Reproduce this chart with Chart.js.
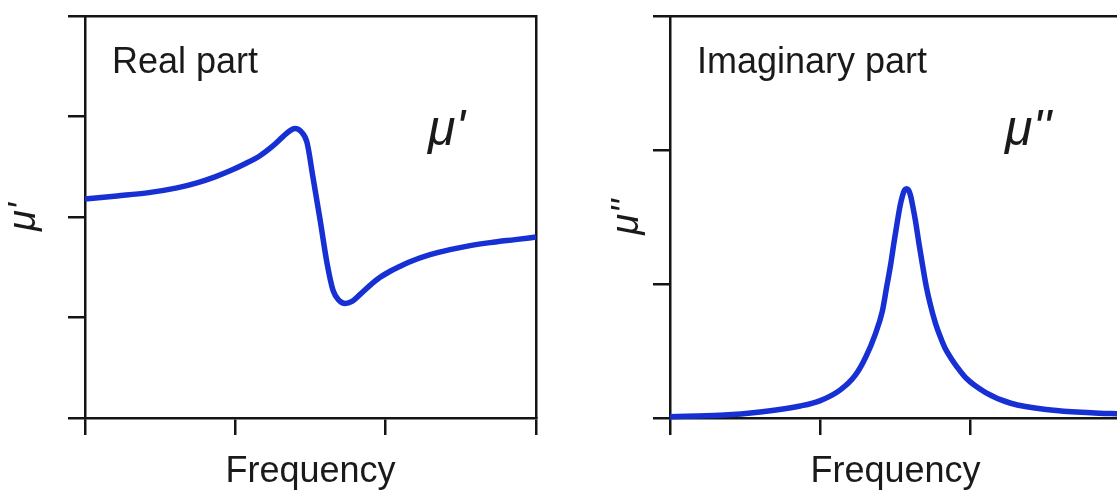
<!DOCTYPE html>
<html>
<head>
<meta charset="utf-8">
<script src="https://cdn.jsdelivr.net/npm/chart.js@4.4.1/dist/chart.umd.min.js"></script>
<style>
  html, body { margin:0; padding:0; width:1117px; height:491px; overflow:hidden; background:#fff; }
  canvas { position:absolute; top:0; }
  #cL { left:0; }
  #cR { left:600px; }
  .lbl { position:absolute; font-family:"Liberation Sans", Arial, sans-serif; color:#1a1a1a; line-height:1; white-space:nowrap; }
  .mu { font-style:italic; font-size:50px; }
  .part { font-size:36px; }
</style>
</head>
<body>
<canvas id="cL" width="560" height="491"></canvas>
<canvas id="cR" width="540" height="491"></canvas>
<div class="lbl part" style="left:112px;top:43px;">Real part</div>
<div class="lbl part" style="left:697px;top:43px;">Imaginary part</div>
<div class="lbl mu" style="left:428px;top:103px;">μ'</div>
<div class="lbl mu" style="left:1005px;top:103px;">μ''</div>
<script>
// ---- data ----
const freqReal = [0, 0.213, 0.413, 0.612, 0.745, 0.865, 0.965, 1.065, 1.164, 1.244, 1.317, 1.364, 1.397, 1.437, 1.477, 1.517, 1.564, 1.610, 1.650, 1.690, 1.730, 1.776, 1.830, 1.896, 1.963, 2.030, 2.096, 2.162, 2.295, 2.428, 2.562, 2.695, 2.861, 3.0];
const muReal   = [2.18, 2.21, 2.24, 2.29, 2.34, 2.40, 2.46, 2.53, 2.61, 2.70, 2.80, 2.86, 2.88, 2.85, 2.74, 2.39, 1.97, 1.54, 1.27, 1.17, 1.14, 1.16, 1.23, 1.32, 1.40, 1.46, 1.51, 1.555, 1.625, 1.675, 1.715, 1.745, 1.775, 1.80];

const freqImag = [0, 0.333, 0.6, 0.867, 1.0, 1.133, 1.233, 1.3, 1.367, 1.413, 1.44, 1.467, 1.49, 1.513, 1.53, 1.547, 1.56, 1.573, 1.587, 1.6, 1.615, 1.633, 1.655, 1.68, 1.705, 1.733, 1.765, 1.8, 1.83, 1.867, 1.91, 1.967, 2.1, 2.267, 2.533, 2.8, 3.0];
const muImag   = [0.01, 0.02, 0.045, 0.09, 0.13, 0.21, 0.32, 0.45, 0.63, 0.80, 0.97, 1.14, 1.31, 1.47, 1.58, 1.66, 1.70, 1.71, 1.70, 1.66, 1.58, 1.47, 1.31, 1.14, 0.98, 0.84, 0.71, 0.60, 0.52, 0.45, 0.38, 0.30, 0.19, 0.11, 0.06, 0.04, 0.03];

const xTicks      = [0, 1, 2, 3];
const yTicksReal  = [0, 1, 2, 3, 4];
const yTicksImag  = [0, 1, 2, 3];

const xTitle = 'Frequency';
const yTitleReal = "μ'";
const yTitleImag = "μ''";

// ---- styling ----
const AXIS = '#141414';
const LINE = '#1730d4';
const AW = 2.5;

function tickSetter(arr) {
  return function (scale) { scale.ticks = arr.map(v => ({ value: v })); };
}

function makeChart(id, xs, ys, yTicks, yTitle, yPad, padRight) {
  const pts = xs.map((x, i) => ({ x: x, y: ys[i] }));
  return new Chart(document.getElementById(id), {
    type: 'line',
    data: { datasets: [{
      data: pts,
      borderColor: LINE,
      borderWidth: 5.5,
      pointRadius: 0,
      cubicInterpolationMode: 'monotone',
      fill: false,
      clip: 4
    }]},
    options: {
      responsive: false,
      animation: false,
      devicePixelRatio: 1,
      layout: { padding: { left: 0, top: 8, right: padRight, bottom: 0 } },
      plugins: { legend: { display: false }, tooltip: { enabled: false } },
      scales: {
        x: {
          type: 'linear', position: 'bottom',
          min: xTicks[0], max: xTicks[xTicks.length - 1],
          afterBuildTicks: tickSetter(xTicks),
          ticks: { display: false },
          grid: { drawOnChartArea: false, drawTicks: true, tickLength: 17, color: AXIS, lineWidth: AW },
          border: { display: true, color: AXIS, width: AW },
          title: { display: true, text: xTitle, color: '#1a1a1a',
                   font: { family: 'Liberation Sans', size: 36, lineHeight: 1 },
                   padding: { top: 19, bottom: 1 } }
        },
        y: {
          type: 'linear', position: 'left',
          min: yTicks[0], max: yTicks[yTicks.length - 1],
          afterBuildTicks: tickSetter(yTicks),
          ticks: { display: false },
          grid: { drawOnChartArea: false, drawTicks: true, tickLength: 17, color: AXIS, lineWidth: AW },
          border: { display: true, color: AXIS, width: AW },
          title: { display: true, text: yTitle, color: '#1a1a1a',
                   font: { family: 'Liberation Sans', size: 38, style: 'italic', lineHeight: 1 },
                   padding: yPad }
        },
        x2: {
          type: 'linear', position: 'top', min: 0, max: 1,
          ticks: { display: false },
          grid: { display: false },
          border: { display: true, color: AXIS, width: AW }
        },
        y2: {
          type: 'linear', position: 'right', min: 0, max: 1,
          ticks: { display: false },
          grid: { display: false },
          border: { display: true, color: AXIS, width: AW }
        }
      }
    }
  });
}

makeChart('cL', freqReal, muReal, yTicksReal, yTitleReal, { top: 5, bottom: 25 }, 16);
makeChart('cR', freqImag, muImag, yTicksImag, yTitleImag, { top: 8, bottom: 7 }, 11);
</script>
</body>
</html>
